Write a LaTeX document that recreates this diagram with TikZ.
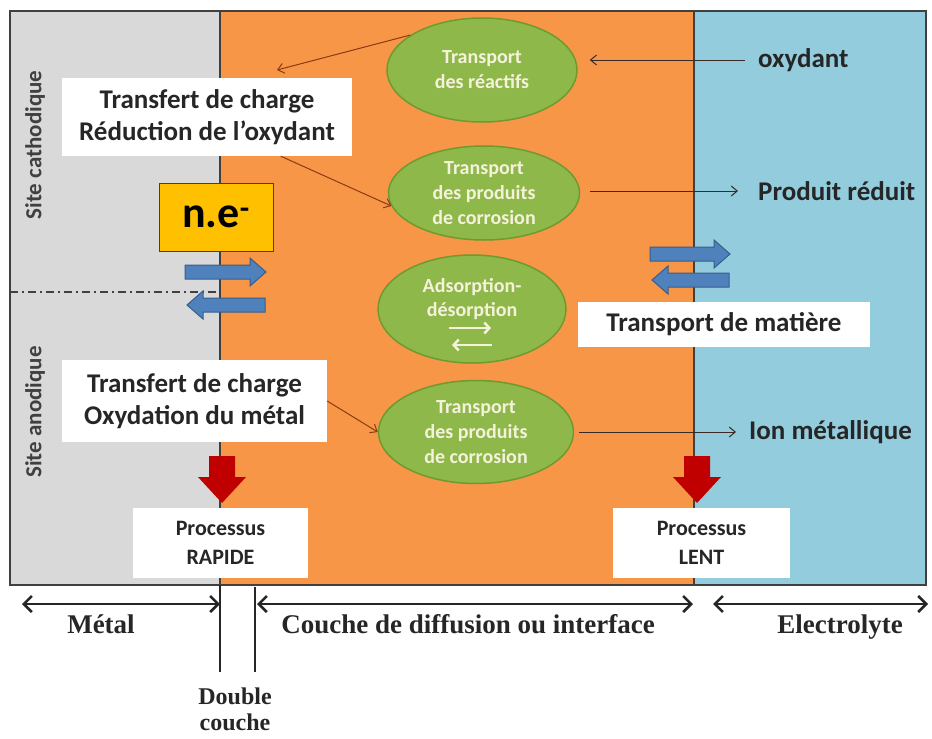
\documentclass[tikz,border=0pt]{standalone}
\usepackage{fontspec}
\setmainfont{Carlito}
\newfontfamily\timesbf{Liberation Serif}
\usepackage{tikz}
\usetikzlibrary{shapes,arrows.meta,positioning,calc}

\definecolor{metalgray}{HTML}{D9D9D9}
\definecolor{couchorange}{HTML}{F79646}
\definecolor{electroblue}{HTML}{93CDDD}
\definecolor{ovalgreen}{HTML}{8FB84A}
\definecolor{ovaledge}{HTML}{6E9A2E}
\definecolor{ovaltext}{HTML}{F5F2DC}
\definecolor{nebox}{HTML}{FFC000}
\definecolor{flowblue}{HTML}{4F81BD}
\definecolor{flowbluedark}{HTML}{385D8A}
\definecolor{bigred}{HTML}{C00000}
\definecolor{linkbrown}{HTML}{8A3A14}
\definecolor{linkdark}{HTML}{3A2A25}
\definecolor{framegray}{HTML}{404040}

\newcommand{\harrow}[4]{% style, tail x, tip x, y
  \pgfmathsetmacro{\headx}{#3-16*sign(#3-#2)}
  \filldraw[#1] ({#2},{#4-7}) -- (\headx,{#4-7}) -- (\headx,{#4-14}) -- ({#3},{#4})
    -- (\headx,{#4+14}) -- (\headx,{#4+7}) -- ({#2},{#4+7}) -- cycle;}
\newcommand{\vredarrow}[1]{% x centre
  \fill[bigred] ({#1-13},456) -- ({#1+13},456) -- ({#1+13},477) -- ({#1+24},477)
    -- ({#1},503) -- ({#1-24},477) -- ({#1-13},477) -- cycle;}

\begin{document}
\begin{tikzpicture}[x=1pt,y=-1pt,
  whitebox/.style={fill=white,inner sep=0pt,align=center,text=black!85,
    font=\fontsize{27}{32}\selectfont\bfseries},
  oval/.style={ellipse,draw=ovaledge,line width=1.5pt,fill=ovalgreen,inner sep=0pt,
    align=center,text=ovaltext,font=\fontsize{20}{25}\selectfont\bfseries},
  procbox/.style={fill=white,inner sep=0pt,align=center,minimum height=70pt,
    text=black!85,font=\fontsize{22}{29}\selectfont\bfseries},
  species/.style={inner sep=0pt,anchor=west,text=black!85,
    font=\fontsize{27}{32}\selectfont\bfseries},
  sitetext/.style={rotate=90,inner sep=0pt,text=framegray,
    font=\fontsize{23}{27}\selectfont\bfseries},
  link/.style={line width=1pt,draw=linkbrown,-{Straight Barb[length=6pt,width=10pt]}},
  linkd/.style={link,draw=linkdark},
  dim/.style={line width=2.6pt,draw=black!85,
    {Straight Barb[length=8pt,width=16pt]}-{Straight Barb[length=8pt,width=16pt]}},
  bottomlabel/.style={inner sep=0pt,text=black!85,
    font={\timesbf\bfseries\fontsize{27}{31}\selectfont}},
  bluearrow/.style={fill=flowblue,draw=flowbluedark,line width=1pt},
  whitearrow/.style={draw=ovaltext,line width=2.5pt,-{Straight Barb[length=5pt,width=11pt]}}]

  \useasboundingbox (0,0) rectangle (932,739);
  \fill[white] (0,0) rectangle (932,739);
  \fill[metalgray] (10,11) rectangle (220,585);
  \fill[couchorange] (220,11) rectangle (694,585);
  \fill[electroblue] (694,11) rectangle (926,585);
  \draw[framegray,line width=2pt] (10,11) rectangle (926,585);
  \draw[framegray,line width=2pt] (220,11) -- (220,585);
  \draw[framegray,line width=2pt] (694,11) -- (694,585);
  \draw[framegray,line width=2pt,dash pattern=on 8pt off 4pt on 2pt off 4pt] (10,292) -- (220,292);

  \node[sitetext] (cathodique) at (35,145) {Site cathodique};
  \node[sitetext] (anodique) at (35,412) {Site anodique};

  \node[oval,minimum width=190pt,minimum height=104pt] (reactifs) at (482,70) {Transport\\des réactifs};
  \node[oval,minimum width=191pt,minimum height=94pt] (produitsA) at (484,193) {Transport\\des produits\\de corrosion};
  \node[oval,minimum width=188pt,minimum height=108pt] (adsorption) at (472,309) {};
  \node[inner sep=0pt,align=center,text=ovaltext,font=\fontsize{20}{24}\selectfont\bfseries] (adstext) at (472,299) {Adsorption-\\désorption};
  \draw[whitearrow] (449,328) -- (491,328);
  \draw[whitearrow] (492,345) -- (452,345);
  \node[oval,minimum width=195pt,minimum height=103pt] (produitsB) at (476,432) {Transport\\des produits\\de corrosion};

  \node[whitebox,minimum width=290pt,minimum height=78pt] (reduction) at (207,117) {Transfert de charge\\Réduction de l’oxydant};
  \node[whitebox,minimum width=265pt,minimum height=82pt] (oxydation) at (194.5,401) {Transfert de charge\\Oxydation du métal};
  \node[whitebox,minimum width=292pt,minimum height=45pt] (matiere) at (724,324.5) {Transport de matière};
  \node[draw=framegray,line width=1pt,fill=nebox,minimum width=114pt,minimum height=68pt,
    inner sep=0pt,font=\fontsize{44}{48}\selectfont\bfseries] (ne) at (216,217) {n.e\textsuperscript{-}};

  \harrow{bluearrow}{185}{266}{272}
  \harrow{bluearrow}{265}{187}{305}
  \harrow{bluearrow}{650}{730}{254}
  \harrow{bluearrow}{729}{652}{280}
  \vredarrow{222}
  \vredarrow{697}

  \node[procbox,minimum width=175pt] (rapide) at (220.5,543) {Processus\\RAPIDE};
  \node[procbox,minimum width=177pt] (lent) at (701.5,543) {Processus\\LENT};

  \node[species] (oxydant) at (758,60) {oxydant};
  \node[species] (produit) at (758,191) {Produit réduit};
  \node[species] (ion) at (749,432) {Ion métallique};

  \coordinate (reductiontop) at (277,70);
  \draw[link] (reactifs.154) -- (reductiontop);
  \draw[link] (reduction.-28) -- (produitsA.188);
  \draw[link] (oxydation.east) -- (produitsB.west);
  \draw[linkd,shorten <=13pt,shorten >=12pt] (oxydant.west) -- (reactifs.east |- oxydant.west);
  \draw[linkd,shorten <=10pt,shorten >=20pt] (produitsA.east |- produit.west) -- (produit.west);
  \draw[linkd,shorten <=5pt,shorten >=13pt] (produitsB.east |- ion.west) -- (ion.west);

  \coordinate (metalL) at (22,604);
  \coordinate (metalR) at (220,604);
  \coordinate (coucheL) at (257,604);
  \coordinate (coucheR) at (693,604);
  \coordinate (electroL) at (713,604);
  \coordinate (electroR) at (928,604);
  \draw[dim] (metalL) -- (metalR);
  \draw[dim] (coucheL) -- (coucheR);
  \draw[dim] (electroL) -- (electroR);
  \coordinate (dcAtop) at (220,585);
  \coordinate (dcAbot) at (220,672);
  \coordinate (dcBtop) at (255,587);
  \coordinate (dcBbot) at (255,672);
  \draw[black!85,line width=2pt] (dcAtop) -- (dcAbot);
  \draw[black!85,line width=2pt] (dcBtop) -- (dcBbot);

  \node[bottomlabel,anchor=base] (metal) at (101,633) {Métal};
  \node[bottomlabel,anchor=base] (couche) at (468,633) {Couche de diffusion ou interface};
  \node[bottomlabel,anchor=base] (electrolyte) at (840,633) {Electrolyte};
  \node[bottomlabel,anchor=north,align=center,font={\timesbf\bfseries\fontsize{24}{26}\selectfont}] (double) at (235,688) {Double\\couche};
\end{tikzpicture}
\end{document}
